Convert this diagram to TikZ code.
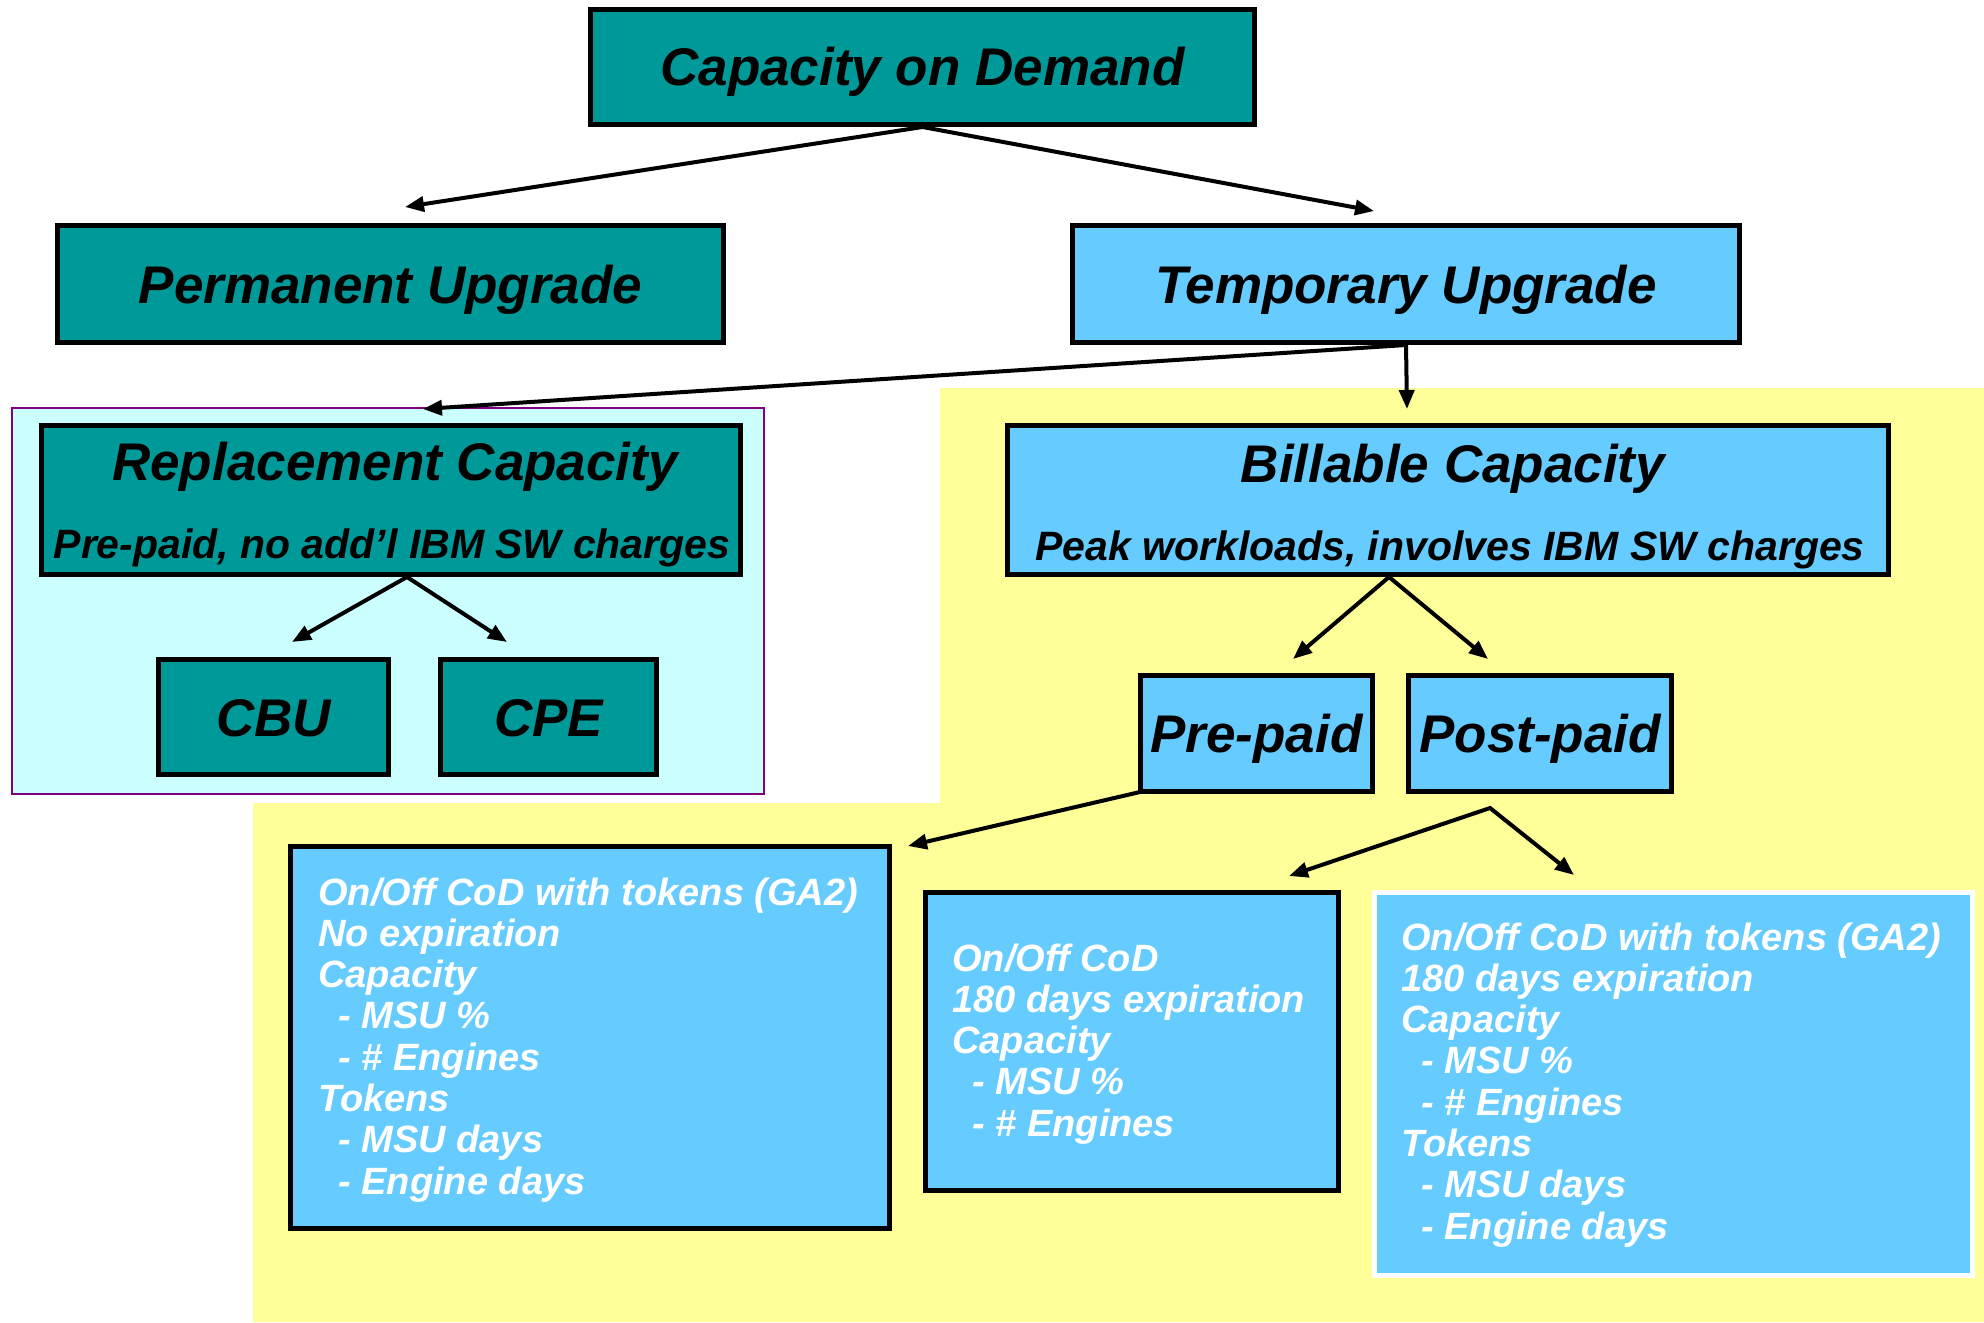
\documentclass[tikz,border=0pt]{standalone}
\usepackage{fontspec}
\setmainfont{Liberation Sans}
\usetikzlibrary{arrows.meta}

\definecolor{codteal}{HTML}{009999}
\definecolor{codblue}{HTML}{66CCFF}
\definecolor{codcyan}{HTML}{CCFFFF}
\definecolor{codyellow}{HTML}{FFFF99}
\definecolor{codpurple}{HTML}{800080}

\newcommand{\bodylines}[1]{\fontsize{19}{20.65}\selectfont\begin{tabular}[t]{@{}l@{}}#1\end{tabular}}
\newcommand{\ind}{\hspace*{10pt}}

\begin{document}
\begin{tikzpicture}[x=0.5pt,y=-0.5pt,
  titlefont/.style={font=\bfseries\itshape\fontsize{26.5}{30}\selectfont},
  subfont/.style={font=\bfseries\itshape\fontsize{20.5}{24}\selectfont},
  box/.style={draw=black, line width=2.5pt, inner sep=0pt, titlefont,
    text height=19pt, text depth=0pt},
  tealbox/.style={box, fill=codteal},
  bluebox/.style={box, fill=codblue},
  listbox/.style={line width=2.5pt, fill=codblue, inner sep=0pt},
  titletext/.style={titlefont, inner sep=0pt, anchor=base},
  subtext/.style={subfont, inner sep=0pt, anchor=base},
  listtext/.style={font=\bfseries\itshape, text=white, inner sep=0pt, anchor=base west},
  tip/.tip={Triangle[length=9.5pt,width=7.5pt]},
  arr/.style={draw=black, line width=2pt, -tip},
]
\useasboundingbox (0,0) rectangle (1984,1322);

% background panels
\fill[codyellow] (940,388) -- (1984,388) -- (1984,1322) -- (253,1322)
  -- (253,803) -- (940,803) -- cycle;
\draw[fill=codcyan, draw=codpurple, line width=1pt] (12,408) rectangle (764,794);

% top levels
\node[tealbox, minimum width=332pt, minimum height=57.5pt] (cod) at (922.5,67) {Capacity on Demand};
\node[tealbox, minimum width=333pt, minimum height=58.5pt] (perm) at (390.5,284) {Permanent Upgrade};
\node[bluebox, minimum width=333.5pt, minimum height=58.5pt] (temp) at (1406,284) {Temporary Upgrade};

% replacement capacity
\node[tealbox, minimum width=349.5pt, minimum height=74.5pt] (rc) at (391,500) {};
\node[titletext] (rctitle) at (395,480) {Replacement Capacity};
\node[subtext] (rcsub) at (392,558) {Pre-paid, no add’l IBM SW charges};
\node[tealbox, minimum width=115pt, minimum height=57.5pt] (cbu) at (273.5,717) {CBU};
\node[tealbox, minimum width=108pt, minimum height=57.5pt] (cpe) at (548.5,717) {CPE};

% billable capacity
\node[bluebox, minimum width=440.5pt, minimum height=74.5pt] (bc) at (1448,500) {};
\node[titletext] (bctitle) at (1453,482) {Billable Capacity};
\node[subtext] (bcsub) at (1450,560) {Peak workloads, involves IBM SW charges};
\node[bluebox, minimum width=116pt, minimum height=58pt] (pre) at (1256.5,733.5) {Pre-paid};
\node[bluebox, minimum width=131.5pt, minimum height=58pt] (post) at (1540,733.5) {Post-paid};

% offering boxes
\node[listbox, draw=black, minimum width=299.5pt, minimum height=191pt] (tokpre) at (590,1037.5) {};
\node[listbox, draw=black, minimum width=206.5pt, minimum height=149pt] (onoff) at (1132,1041.5) {};
\node[listbox, draw=white, minimum width=299pt, minimum height=191.5pt] (tokpost) at (1673.5,1084) {};

\node[listtext] (tokpretext) at (318,905) {\bodylines{On/Off CoD with tokens (GA2)\\No expiration\\Capacity\\\ind- MSU \%\\\ind- \# Engines\\Tokens\\\ind- MSU days\\\ind- Engine days}};
\node[listtext] (onofftext) at (952,971) {\bodylines{On/Off CoD\\180 days expiration\\Capacity\\\ind- MSU \%\\\ind- \# Engines}};
\node[listtext] (tokposttext) at (1401,950) {\bodylines{On/Off CoD with tokens (GA2)\\180 days expiration\\Capacity\\\ind- MSU \%\\\ind- \# Engines\\Tokens\\\ind- MSU days\\\ind- Engine days}};

% arrow end points and branch points
\coordinate (permtip) at (405,207);
\coordinate (temptip) at (1374,211);
\coordinate (rctip) at (423,409);
\coordinate (bctip) at (1407,409);
\coordinate (rcfork) at (407,577);
\coordinate (cbutip) at (292,642);
\coordinate (cpetip) at (507,642);
\coordinate (bcfork) at (1389,577);
\coordinate (pretip) at (1293,659);
\coordinate (posttip) at (1488,659);
\coordinate (prefork) at (1140,792);
\coordinate (tokpretip) at (908,846);
\coordinate (postfork) at (1490,808);
\coordinate (onofftip) at (1289,876);
\coordinate (tokposttip) at (1574,875);

% connectors
\draw[arr] (cod.south) -- (permtip);
\draw[arr] (cod.south) -- (temptip);
\draw[arr] (temp.south) -- (rctip);
\draw[arr] (temp.south) -- (bctip);
\draw[arr] (rcfork) -- (cbutip);
\draw[arr] (rcfork) -- (cpetip);
\draw[arr] (bcfork) -- (pretip);
\draw[arr] (bcfork) -- (posttip);
\draw[arr] (prefork) -- (tokpretip);
\draw[arr, tip-tip] (onofftip) -- (postfork) -- (tokposttip);
\end{tikzpicture}
\end{document}
